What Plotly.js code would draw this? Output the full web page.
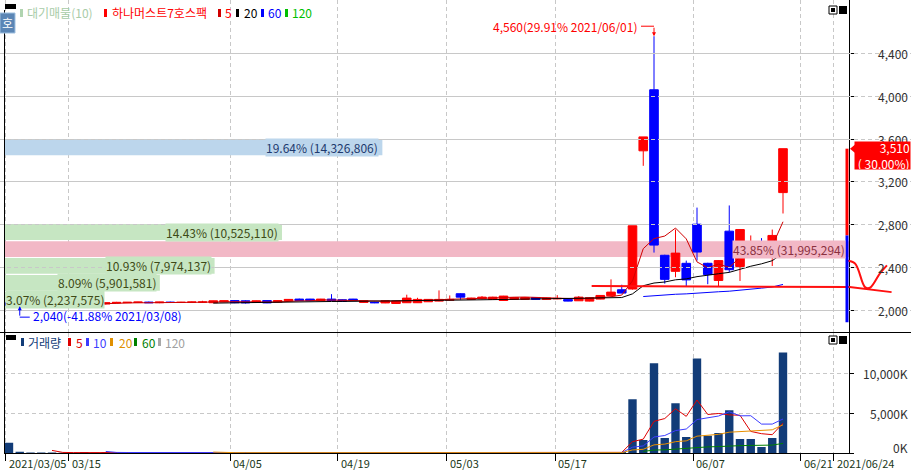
<!DOCTYPE html>
<html><head><meta charset="utf-8">
<script src="https://cdn.plot.ly/plotly-3.0.1.min.js"></script>
<style>html,body{margin:0;padding:0;background:#fff;}#chart{width:911px;height:473px;}</style>
</head><body><div id="chart"></div>
<script>
// ---------------- DATA ----------------
const dates = ['2021/03/05','2021/03/08','2021/03/09','2021/03/10','2021/03/11','2021/03/12','2021/03/15','2021/03/16','2021/03/17','2021/03/18',
'2021/03/19','2021/03/22','2021/03/23','2021/03/24','2021/03/25','2021/03/26','2021/03/29','2021/03/30','2021/03/31','2021/04/01',
'2021/04/02','2021/04/05','2021/04/06','2021/04/07','2021/04/08','2021/04/09','2021/04/12','2021/04/13','2021/04/14','2021/04/15',
'2021/04/16','2021/04/19','2021/04/20','2021/04/21','2021/04/22','2021/04/23','2021/04/26','2021/04/27','2021/04/28','2021/04/29',
'2021/04/30','2021/05/03','2021/05/04','2021/05/06','2021/05/07','2021/05/10','2021/05/11','2021/05/12','2021/05/13','2021/05/14',
'2021/05/17','2021/05/18','2021/05/20','2021/05/21','2021/05/24','2021/05/25','2021/05/26','2021/05/27','2021/05/28','2021/05/31',
'2021/06/01','2021/06/02','2021/06/03','2021/06/04','2021/06/07','2021/06/08','2021/06/09','2021/06/10','2021/06/11','2021/06/14',
'2021/06/15','2021/06/16','2021/06/17'];
const open  = [2070,2060,2050,2055,2058,2062,2058,2055,2065,2060, 2070,2072,2075,2078,2072,2078,2074,2076,2078,2072,
               2080,2092,2090,2075,2092,2078,2090,2106,2106,2092, 2106,2100,2106,2075,2075,2070,2065,2072,2072,2081,
               2087,2095,2156,2103,2109,2103,2093,2103,2103,2121, 2103,2108,2103,2090,2087,2106,2137,2193,2200,3490,
               4060,2515,2365,2440,2805,2440,2280,2740,2410,2575, 2590,2600,3100];
const high  = [2075,2065,2060,2065,2080,2066,2062,2075,2070,2075, 2080,2078,2080,2082,2080,2082,2080,2082,2090,2092,
               2092,2095,2095,2092,2095,2095,2105,2110,2108,2108, 2152,2104,2108,2092,2080,2092,2090,2147,2118,2105,
               2187,2140,2160,2118,2134,2128,2136,2125,2125,2125, 2118,2143,2108,2134,2122,2142,2290,2240,2790,3620,
               4560,2520,2755,2465,2960,2445,2470,2980,2760,2700, 2675,2755,3510];
const low   = [2045,2040,2045,2050,2055,2050,2050,2050,2058,2055, 2065,2068,2070,2070,2068,2072,2070,2072,2070,2070,
               2078,2068,2065,2072,2068,2075,2088,2090,2090,2090, 2088,2082,2090,2072,2068,2068,2060,2070,2070,2080,
               2085,2090,2100,2100,2105,2100,2090,2100,2100,2100, 2100,2105,2085,2088,2085,2104,2135,2160,2195,3350,
               2540,2250,2310,2225,2465,2245,2220,2355,2275,2535, 2515,2415,2905];
const close = [2050,2055,2058,2060,2062,2055,2052,2068,2060,2072, 2075,2076,2078,2072,2078,2074,2076,2078,2078,2090,
               2090,2072,2070,2090,2070,2092,2103,2092,2092,2106, 2092,2085,2092,2090,2072,2090,2088,2115,2103,2103,
               2103,2103,2124,2115,2124,2124,2134,2121,2121,2103, 2115,2112,2087,2124,2119,2140,2171,2162,2790,3620,
               2610,2290,2535,2285,2545,2335,2465,2380,2755,2615, 2560,2700,3510];
const volumeK = [1300,150,60,50,70,40,35,140,40,90, 60,30,25,30,25,20,25,20,30,40,
                 30,35,30,25,30,25,40,35,30,30, 60,30,25,25,20,30,35,60,40,30,
                 70,40,60,30,40,30,45,30,25,25, 30,45,30,40,45,60,130,120,6750,1625,
                 11250,1875,6250,2000,11875,2170,2500,5375,1750,1750, 750,1875,12625];
const priceTicks = [2000,2400,2800,3200,3600,4000,4400];
const volumeTicks = [0,5000,10000];
const dateTickPos = [-0.28,5.58,20.56,30.6,40.74,50.8,63.63,73.65,76.74];
const dateTickLabels = ['2021/03/05','03/15','04/05','04/19','05/03','05/17','06/07','06/21','2021/06/24'];
// 대기매물(10): volume by price band, lowest band first
const bandVolumes = [2237575,5901581,7974137,31995294,10525110,0,0,0,0,14326806];
const bandLow = 2020, bandHigh = 3600;
// user-drawn red objects (index, price)
const trendIdx = [54.2, 78.2, 82.1];
const trendPrice = [2227, 2218, 2171];
const curveIdx = [77.86, 78.7, 79.63, 80.09, 81.02, 81.67];
const curvePrice = [2467, 2439, 2218, 2212, 2346, 2421];

// ---------------- HELPERS ----------------
const W = 911, H = 473;
const px = x => x / W, py = y => 1 - y / H;
const FONT = "'Noto Sans CJK KR', 'DejaVu Sans', sans-serif";
const fmt = v => String(Math.round(v)).replace(/\B(?=(\d{3})+(?!\d))/g, ',');
function sma(arr, n) {
  return arr.map((_, i) => {
    if (i < n - 1) return null;
    let s = 0; for (let k = i - n + 1; k <= i; k++) s += arr[k];
    return s / n;
  });
}
const N = close.length;
const idx = close.map((_, i) => i);
const xr = [-0.465, 78.14];
const yr = [1794, 4898];
const yr2 = [0, 15125];
const GRID = '#c8c8c8', GDASH = '4px,3px';

// ---------------- TRACES ----------------
const traces = [];
const step = (bandHigh - bandLow) / bandVolumes.length;
const maxBandVol = Math.max(...bandVolumes);
const maxBand = bandVolumes.indexOf(maxBandVol);
const lastClose = close[N - 1], prevClose = close[N - 2];
const curBand = Math.floor((lastClose - bandLow) / step);
const bandColor = bandVolumes.map((v, k) => k === curBand ? '#bcd6ec' : (k === maxBand ? '#f2b8c6' : '#c6e6c2'));
const bandText = bandVolumes.map((v, k) => k === curBand ? '#1e3a6e' : (k === maxBand ? '#8a3040' : '#3e4a16'));
const bandCenters = bandVolumes.map((v, k) => bandLow + step * (k + 0.5));
const bandLen = bandVolumes.map(v => v / maxBandVol * (xr[1] - xr[0]));
traces.push({type:'bar', orientation:'h', x:bandLen, y:bandCenters, base:xr[0], width:step*0.93,
  marker:{color:bandColor, line:{width:0}}, xaxis:'x', yaxis:'y', hoverinfo:'skip'});

traces.push({type:'candlestick', x:idx, open:open, high:high, low:low, close:close, xaxis:'x', yaxis:'y',
  increasing:{line:{color:'#ff0000', width:1}, fillcolor:'#ff0000'},
  decreasing:{line:{color:'#0000ff', width:1}, fillcolor:'#0000ff'},
  whiskerwidth:0, hoverinfo:'skip'});

const pMA = [[5,'#d00000'],[20,'#000000'],[60,'#0000ff'],[120,'#00b000']];
pMA.forEach(([n,c]) => traces.push({type:'scatter', mode:'lines', x:idx, y:sma(close,n), xaxis:'x', yaxis:'y',
  line:{color:c, width:1}, hoverinfo:'skip'}));

traces.push({type:'bar', x:idx, y:volumeK, width:0.78, xaxis:'x2', yaxis:'y2',
  marker:{color:'#123c78', line:{width:0}}, hoverinfo:'skip'});
const vMA = [[5,'#dd0000'],[10,'#3c3cff'],[20,'#e89000'],[60,'#008000'],[120,'#a8a8a8']];
vMA.forEach(([n,c]) => traces.push({type:'scatter', mode:'lines', x:idx, y:sma(volumeK,n), xaxis:'x2', yaxis:'y2',
  line:{color:c, width:1}, hoverinfo:'skip'}));

traces.push({type:'scatter', mode:'lines', x:trendIdx, y:trendPrice, xaxis:'x4', yaxis:'y',
  line:{color:'#ff1010', width:2}, hoverinfo:'skip'});
traces.push({type:'scatter', mode:'lines', x:curveIdx, y:curvePrice, xaxis:'x4', yaxis:'y',
  line:{color:'#ff1010', width:2, shape:'spline'}, hoverinfo:'skip'});

// ---------------- ANNOTATIONS ----------------
const ann = [];
const txt = (x, y, text, color, opts={}) => Object.assign({xref:'paper', yref:'paper', x:px(x), y:py(y),
  xanchor:'left', yanchor:'middle', text:text, showarrow:false, font:{family:FONT, size:12, color:color}}, opts);

[[25,'대기매물(10)','#a8cca8'],[110,'하나머스트7호스팩','#ff0000'],[223,'5','#ff0000'],
 [242,'20','#000000'],[266,'60','#0000ff'],[290,'120','#00c000']].forEach(([x,t,c]) => ann.push(txt(x,13,t,c)));
[[26,'거래량','#123c78'],[74,'5','#dd0000'],[91,'10','#3c3cff'],[117,'20','#e09000'],
 [140,'60','#008000'],[163,'120','#a0a0a0']].forEach(([x,t,c]) => ann.push(txt(x,342,t,c)));
ann.push(txt(7.5,23,'호','#ffffff',{xanchor:'center', font:{family:FONT, size:12, color:'#ffffff'}}));

const totalBand = bandVolumes.reduce((a,b)=>a+b,0);
bandVolumes.forEach((v,k) => {
  if (!v) return;
  const label = (v/totalBand*100).toFixed(2) + '% (' + fmt(v) + ')';
  const pxWidth = v / maxBandVol * 845;
  const fits = pxWidth > label.length * 6.2 + 6;
  ann.push({xref:'x', yref:'y', x: fits ? xr[0] + bandLen[k] : xr[0], y: bandCenters[k],
    xanchor: fits ? 'right' : 'left', xshift: fits ? -3 : 1, yanchor:'middle', showarrow:false,
    text:label, bgcolor: bandColor[k], borderpad:0,
    font:{family:FONT, size:12, color:bandText[k]}});
});

const maxHigh = Math.max(...high), hiIdx = high.indexOf(maxHigh);
const minLow = Math.min(...low), loIdx = low.indexOf(minLow);
const pctTo = v => ((v / lastClose - 1) * 100).toFixed(2);
ann.push({xref:'x', yref:'y', x:hiIdx, y:maxHigh, xanchor:'right', yanchor:'middle', xshift:-14, yshift:10,
  showarrow:false, text: fmt(maxHigh) + '(' + pctTo(maxHigh) + '% ' + dates[hiIdx] + ')',
  font:{family:FONT, size:12, color:'#ff0000'}});
ann.push({xref:'x', yref:'y', x:hiIdx, y:maxHigh, ax:0, ay:-10, text:'', showarrow:true,
  arrowhead:2, arrowsize:0.8, arrowwidth:1, arrowcolor:'#ff0000', standoff:0});
ann.push({xref:'x', yref:'y', x:loIdx, y:minLow, xanchor:'left', yanchor:'middle', xshift:11, yshift:-9,
  showarrow:false, text: fmt(minLow) + '(' + pctTo(minLow) + '% ' + dates[loIdx] + ')',
  font:{family:FONT, size:12, color:'#0000ff'}});
ann.push({xref:'x', yref:'y', x:loIdx, y:minLow, ax:0, ay:11, text:'', showarrow:true,
  arrowhead:2, arrowsize:0.8, arrowwidth:1, arrowcolor:'#0000ff', standoff:0});

priceTicks.forEach(v => ann.push({xref:'paper', yref:'y', x:px(910), y:v, xanchor:'right', yanchor:'middle',
  showarrow:false, text:fmt(v), font:{family:FONT, size:12, color:'#303030'}}));
volumeTicks.forEach(v => ann.push({xref:'paper', yref:'y2', x:px(910), y:v, xanchor:'right', yanchor:'middle',
  yshift: v === yr2[0] ? 6 : 0, showarrow:false, text:fmt(v) + 'K', font:{family:FONT, size:12, color:'#303030'}}));
ann.push({xref:'paper', yref:'y', x:1, y:lastClose, xanchor:'right', yanchor:'top', yshift:8,
  text: fmt(lastClose) + '<br>( ' + ((lastClose/prevClose-1)*100).toFixed(2) + '%)', align:'right',
  bgcolor:'#ff0000', borderpad:0, width:55, height:27, showarrow:false,
  font:{family:FONT, size:12, color:'#ffffff'}});
dateTickPos.forEach((p,i) => ann.push({xref:'x2', yref:'paper', x:p, y:py(463), xanchor:'left', xshift:1,
  yanchor:'middle', showarrow:false, text:dateTickLabels[i], font:{family:FONT, size:11, color:'#203820'}}));

// ---------------- SHAPES ----------------
const shapes = [];
const rect = (x0,y0,x1,y1,fill,line,layer='above') => ({type:'rect', xref:'paper', yref:'paper',
  x0:px(x0), x1:px(x1), y0:py(y0), y1:py(y1), fillcolor:fill, line: line ? {color:line, width:1} : {width:0}, layer:layer});
const lineP = (x0,y0,x1,y1,c='#000') => ({type:'line', xref:'paper', yref:'paper', x0:px(x0), x1:px(x1), y0:py(y0), y1:py(y1),
  line:{color:c, width:1}, layer:'above'});
shapes.push(rect(5,0,848,21,'#ffffff',null,'between'));
shapes.push(lineP(4.5,10,4.5,453));
shapes.push(lineP(0,332.5,911,332.5));
shapes.push(rect(5,4,16,9,'#000000'));
shapes.push(rect(6,335,16,340,'#000000'));
shapes.push(rect(0,13,15,33,'#5b86b5','#9fc0e0'));
[[6,14],[336,344]].forEach(([a,b]) => {
  shapes.push(rect(829,a,837,b,'#ffffff','#000000'));
  shapes.push(rect(831,a+2,835,b-2,'#000000'));
  shapes.push(rect(839,a,847,b,'#000000'));
});
[[20,'#b0d4b0'],[104,'#ff0000'],[218,'#d00000'],[236,'#000000'],[261,'#0000ff'],[285,'#00c000']]
  .forEach(([x,c]) => shapes.push(rect(x,9,x+3,17,c)));
[[21,'#123c78'],[68,'#dd0000'],[86,'#3c3cff'],[110,'#e09000'],[134,'#008000'],[158,'#a8a8a8']]
  .forEach(([x,c]) => shapes.push(rect(x,338,x+3,346,c)));
shapes.push({type:'rect', xref:'paper', yref:'y', x0:px(845.5), x1:px(848.5), y0:prevClose, y1:lastClose,
  fillcolor:'#ff0000', line:{width:0}, layer:'above'});
shapes.push({type:'rect', xref:'paper', yref:'y', x0:px(845.5), x1:px(848.5), y0:Math.round(prevClose*0.7), y1:prevClose,
  fillcolor:'#0000ff', line:{width:0}, layer:'above'});
shapes.push({type:'path', xref:'paper', yref:'y', xsizemode:'pixel', ysizemode:'pixel', xanchor:px(856), yanchor:lastClose,
  path:'M 0,5 L -6,0 L 0,-5 Z', fillcolor:'#ff0000', line:{width:0}, layer:'above'});
shapes.push({type:'line', xref:'x', yref:'y', xsizemode:'pixel', ysizemode:'pixel', xanchor:hiIdx, yanchor:maxHigh,
  x0:-13, x1:0, y0:10, y1:10, line:{color:'#ff0000', width:1}});
shapes.push({type:'line', xref:'x', yref:'y', xsizemode:'pixel', ysizemode:'pixel', xanchor:loIdx, yanchor:minLow,
  x0:0, x1:10, y0:-11, y1:-11, line:{color:'#0000ff', width:1}});

// ---------------- LAYOUT ----------------
const xdom = [px(4), px(849)];
const layout = {
  width:W, height:H, margin:{l:0,r:0,t:0,b:0}, paper_bgcolor:'#ffffff', plot_bgcolor:'rgba(0,0,0,0)',
  showlegend:false, hovermode:false, boxgap:0.2, boxgroupgap:0, barmode:'overlay',
  xaxis:{domain:xdom, range:xr, anchor:'y', tickvals:dateTickPos, showticklabels:false, ticks:'',
    showgrid:true, gridcolor:GRID, griddash:GDASH, zeroline:false, showline:false, rangeslider:{visible:false}, fixedrange:true},
  yaxis:{domain:[py(332.5), 1], range:yr, anchor:'x', side:'right', tickvals:priceTicks, showticklabels:false,
    ticks:'outside', ticklen:4, tickcolor:'#000', showline:true, linecolor:'#000', linewidth:1,
    showgrid:true, gridcolor:GRID, griddash:GDASH, zeroline:false, fixedrange:true},
  xaxis2:{domain:xdom, range:xr, anchor:'y2', tickvals:dateTickPos, showticklabels:false, ticks:'outside',
    ticklen:7, tickcolor:'#000', showline:true, linecolor:'#000', linewidth:1,
    showgrid:true, gridcolor:GRID, griddash:GDASH, zeroline:false, rangeslider:{visible:false}, fixedrange:true},
  yaxis2:{domain:[py(453), py(332.5)], range:yr2, anchor:'x2', side:'right', tickvals:volumeTicks, showticklabels:false,
    ticks:'outside', ticklen:4, tickcolor:'#000', showline:true, linecolor:'#000', linewidth:1,
    showgrid:true, gridcolor:GRID, griddash:GDASH, zeroline:false, fixedrange:true},
  xaxis4:{domain:[0,1], range:[(0-9)/10.75, (911-9)/10.75], anchor:'y', visible:false, fixedrange:true},
  annotations:ann, shapes:shapes
};
Plotly.newPlot('chart', traces, layout, {staticPlot:true, displayModeBar:false});
</script>
</body></html>
